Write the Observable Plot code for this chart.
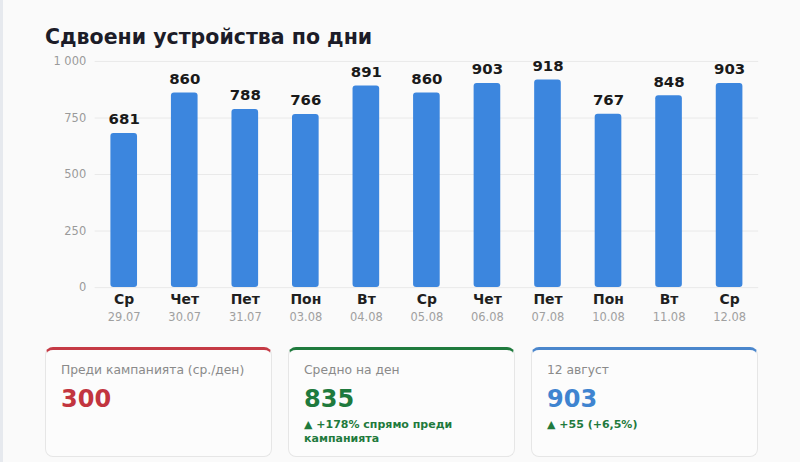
<!DOCTYPE html>
<html>
<head>
<meta charset="utf-8">
<script src="https://cdn.jsdelivr.net/npm/d3@7"></script>
<script src="https://cdn.jsdelivr.net/npm/@observablehq/plot@0.6"></script>
<style>
  html, body { margin: 0; padding: 0; background: #fafafa; }
  body { width: 800px; height: 462px; position: relative; overflow: hidden; font-family: "DejaVu Sans", sans-serif; border-left: 3px solid #e6e9ee; box-sizing: border-box; }
  #title { position: absolute; left: 42px; top: 24px; font-size: 20.5px; line-height: 26px; font-weight: bold; color: #1c1c28; }
  #chart { position: absolute; left: -3px; top: 50px; }
  .card { position: absolute; top: 347px; width: 227px; height: 110px; box-sizing: border-box; background: #fcfcfc; border: 1px solid #e6e6e6; border-top-width: 3px; border-radius: 8px; }
  .card .lab { position: absolute; left: 15px; top: 12px; font-size: 12.3px; color: #8a8a8a; line-height: 16px; }
  .card .num { position: absolute; left: 15px; top: 34px; font-size: 24px; font-weight: bold; line-height: 30px; }
  .card .sub { position: absolute; left: 15px; top: 68px; font-size: 11px; font-weight: bold; line-height: 14px; color: #1f7a3d; width: 200px; }
</style>
</head>
<body>
<div id="title">Сдвоени устройства по дни</div>
<div id="chart"></div>
<div class="card" style="left:42px;border-top-color:#c53a45"><div class="lab">Преди кампанията (ср./ден)</div><div class="num" style="color:#c2353f">300</div></div>
<div class="card" style="left:285px;border-top-color:#1f7a3d"><div class="lab">Средно на ден</div><div class="num" style="color:#1f7a3d">835</div><div class="sub">▲ +178% спрямо преди<br>кампанията</div></div>
<div class="card" style="left:528px;border-top-color:#4a86cc"><div class="lab">12 август</div><div class="num" style="color:#3f84d0">903</div><div class="sub">▲ +55 (+6,5%)</div></div>
<script>
const days = ["Ср","Чет","Пет","Пон","Вт","Ср","Чет","Пет","Пон","Вт","Ср"];
const dates = ["29.07","30.07","31.07","03.08","04.08","05.08","06.08","07.08","10.08","11.08","12.08"];
const values = [681, 860, 788, 766, 891, 860, 903, 918, 767, 848, 903];
const yTicks = [0, 250, 500, 750, 1000];

const data = dates.map((d, i) => ({date: d, day: days[i], value: values[i]}));
const fmt = v => d3.format(",")(v).replace(/,/g, " ");

const chart = Plot.plot({
  width: 803,
  height: 290,
  marginLeft: 95,
  marginRight: 42,
  marginTop: 11,
  marginBottom: 52,
  style: {background: "transparent", fontFamily: "DejaVu Sans, sans-serif"},
  x: {domain: dates, paddingInner: 0.56, paddingOuter: 0.26, round: false, axis: null},
  y: {domain: [0, 1000], ticks: yTicks, axis: null},
  marks: [
    Plot.gridY(yTicks, {stroke: "#e9e9e9", strokeOpacity: 1, strokeWidth: 1}),
    Plot.axisY(yTicks, {tickSize: 0, tickPadding: 9, tickFormat: fmt, fontSize: 11.5, fill: "#9a9a9a", label: null}),
    Plot.barY(data, {x: "date", y: "value", fill: "#3c86de", rx: 3}),
    Plot.text(data, {x: "date", y: "value", text: d => String(d.value), dy: -14, fontSize: 15, fontWeight: "bold", fill: "#1a1a1a"}),
    Plot.text(data, {x: "date", text: "day", frameAnchor: "bottom", lineAnchor: "middle", dy: 12, fontSize: 14, fontWeight: "bold", fill: "#1f1f1f"}),
    Plot.text(data, {x: "date", text: "date", frameAnchor: "bottom", lineAnchor: "middle", dy: 30, fontSize: 11.5, fill: "#a0a0a0"})
  ]
});
document.getElementById("chart").appendChild(chart);
</script>
</body>
</html>
